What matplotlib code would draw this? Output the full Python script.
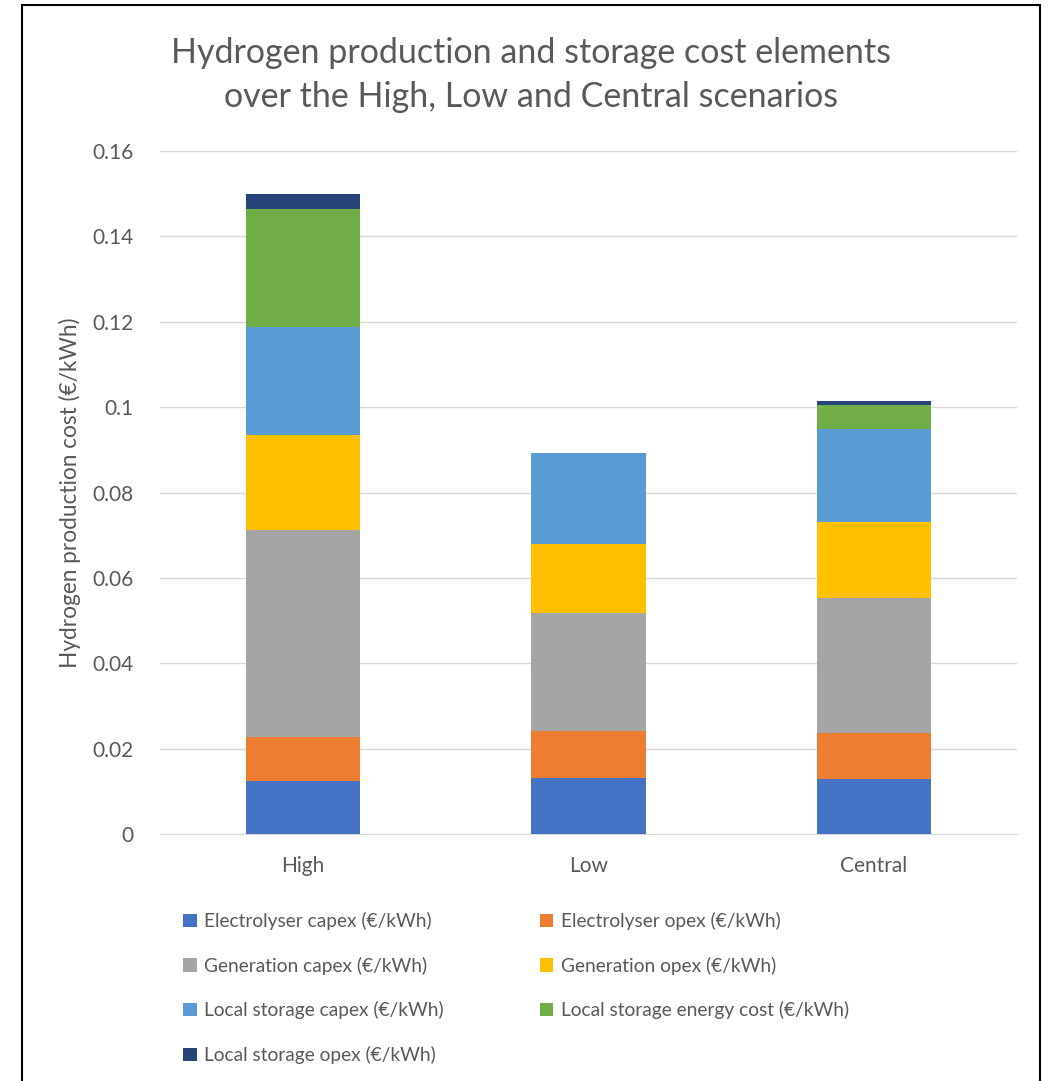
import numpy as np
import matplotlib.pyplot as plt
from matplotlib.patches import Rectangle

plt.rcParams['font.family'] = ['Lato', 'DejaVu Sans']

scenarios = ['High', 'Low', 'Central']
elec_capex = [0.0124, 0.0131, 0.0129]
elec_opex = [0.0103, 0.0110, 0.0108]
gen_capex = [0.0485, 0.0277, 0.0316]
gen_opex = [0.0222, 0.0161, 0.0178]
stor_capex = [0.0253, 0.0213, 0.0217]
stor_energy = [0.0277, 0.0, 0.0057]
stor_opex = [0.0035, 0.0, 0.0009]

labels = ['Electrolyser capex (€/kWh)', 'Electrolyser opex (€/kWh)',
          'Generation capex (€/kWh)', 'Generation opex (€/kWh)',
          'Local storage capex (€/kWh)', 'Local storage energy cost (€/kWh)',
          'Local storage opex (€/kWh)']
colors = ['#4472C4', '#ED7D31', '#A5A5A5', '#FFC000', '#5B9BD5', '#70AD47', '#264478']
series = [elec_capex, elec_opex, gen_capex, gen_opex, stor_capex, stor_energy, stor_opex]

txt = '#595959'
fig = plt.figure(figsize=(10.51, 10.81), dpi=100)
ax = fig.add_axes([0.1522, 0.2285, 0.8154, 0.6318])

x = np.arange(len(scenarios))
bottom = np.zeros(len(scenarios))
handles = []
for vals, col, lab in zip(series, colors, labels):
    b = ax.bar(x, vals, 0.4, bottom=bottom, color=col, label=lab, zorder=3)
    handles.append(b)
    bottom += np.array(vals)

ax.set_xlim(-0.5, 2.5)
ax.set_ylim(0, 0.16)
ax.set_yticks(np.arange(0, 0.161, 0.02))
ax.set_yticklabels(['0', '0.02', '0.04', '0.06', '0.08', '0.1', '0.12', '0.14', '0.16'])
ax.set_xticks(x)
ax.set_xticklabels(scenarios)
ax.tick_params(length=0, labelsize=15, colors=txt)
ax.tick_params(axis='x', pad=16)
ax.tick_params(axis='y', pad=19)
ax.grid(axis='y', color='#D9D9D9', linewidth=1, zorder=0)
for s in ['top', 'right', 'left']:
    ax.spines[s].set_visible(False)
ax.spines['bottom'].set_color('#D9D9D9')
ax.set_ylabel('Hydrogen production cost (€/kWh)', fontsize=16.3, color=txt, labelpad=8)

fig.text(0.505, 0.9305, 'Hydrogen production and storage cost elements\nover the High, Low and Central scenarios',
         ha='center', va='center', fontsize=24.5, color=txt, linespacing=1.45)

# row-major order like the original legend
order = [0, 2, 4, 6, 1, 3, 5]
fig.legend(handles=[handles[i] for i in order], loc='upper left', bbox_to_anchor=(0.158, 0.172), ncol=2,
           frameon=False, fontsize=13.8, labelcolor=txt, handlelength=0.7, handleheight=0.7,
           handletextpad=0.4, columnspacing=5.0, labelspacing=1.38)

fig.patches.append(Rectangle((22/1051, -0.01), (1040-22)/1051, 1 - 5/1081 + 0.01,
                             transform=fig.transFigure, fill=False, edgecolor='black', linewidth=1.5))

fig.savefig('out.png', dpi=100)
